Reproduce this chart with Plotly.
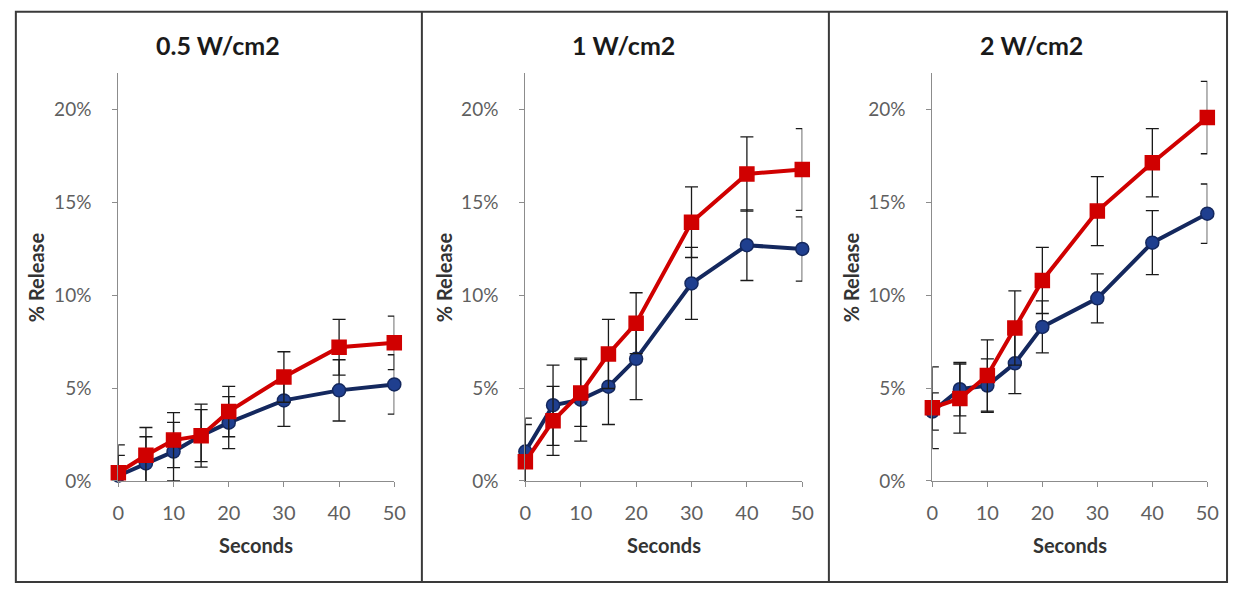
import plotly.graph_objects as go

W, H = 1241, 594

# Sampling times (s)
seconds = [0, 5, 10, 15, 20, 30, 40, 50]

panel_titles = ["0.5 W/cm2", "1 W/cm2", "2 W/cm2"]

# % release, two formulations per ultrasound intensity, with SD
red_05 = [0.44, 1.38, 2.2, 2.44, 3.74, 5.6, 7.2, 7.44]
red_05_err = [1.5, 1.5, 1.48, 1.7, 1.36, 1.36, 1.5, 1.44]
blue_05 = [0.28, 0.94, 1.58, 2.44, 3.14, 4.34, 4.88, 5.2]
blue_05_err = [1.1, 1.44, 1.58, 1.4, 1.4, 1.4, 1.65, 1.6]

red_1 = [1.04, 3.24, 4.74, 6.84, 8.5, 13.94, 16.54, 16.78]
red_1_err = [2.0, 1.86, 1.8, 1.86, 1.64, 1.9, 2.0, 2.2]
blue_1 = [1.58, 4.08, 4.38, 5.08, 6.58, 10.64, 12.7, 12.5]
blue_1_err = [1.8, 2.16, 2.24, 2.04, 2.2, 1.94, 1.9, 1.73]

red_2 = [3.94, 4.44, 5.68, 8.24, 10.8, 14.54, 17.14, 19.58]
red_2_err = [2.2, 1.86, 1.92, 2.0, 1.78, 1.86, 1.84, 1.95]
blue_2 = [3.74, 4.94, 5.14, 6.34, 8.3, 9.84, 12.84, 14.4]
blue_2_err = [1.0, 1.44, 1.44, 1.64, 1.4, 1.32, 1.72, 1.6]

y_ticks = [0, 5, 10, 15, 20]
y_tick_labels = ["0%", "5%", "10%", "15%", "20%"]
x_ticks = [0, 10, 20, 30, 40, 50]

panels = [
    (blue_05, blue_05_err, red_05, red_05_err),
    (blue_1, blue_1_err, red_1, red_1_err),
    (blue_2, blue_2_err, red_2, red_2_err),
]

# Plot-area pixel boxes for each panel (left, right), shared top/bottom
x_px = [(114, 394), (527, 808), (940, 1219)]
y_top_px, y_bot_px = 74, 490
title_x_px = [215, 627, 1041]
ytitle_x_px = [30, 444, 857]

BLUE_LINE = "#14285e"
BLUE_FILL = "#1f3f8f"
RED = "#d00000"
AXIS_GREY = "#8c8c8c"
TEXT_GREY = "#5f5f5f"
FONT = "Lato, 'Open Sans', sans-serif"


def px_x(p):
    return p / W


def px_y(p):
    return 1 - p / H


fig = go.Figure()
layout = dict(
    width=W, height=H,
    margin=dict(l=0, r=0, t=0, b=0),
    paper_bgcolor="white", plot_bgcolor="white",
    showlegend=False,
    font=dict(family=FONT, color=TEXT_GREY),
)

annotations = []
shapes = []

for i, (b, be, r, re) in enumerate(panels):
    n = "" if i == 0 else str(i + 1)
    xa, ya = "x" + n, "y" + n
    for vals, errs, color, fill, symbol, size in (
        (b, be, BLUE_LINE, BLUE_FILL, "circle", 13),
        (r, re, RED, RED, "square", 14),
    ):
        fig.add_trace(go.Scatter(
            x=seconds, y=vals, xaxis=xa, yaxis=ya,
            mode="lines+markers",
            line=dict(color=color, width=4),
            marker=dict(symbol=symbol, size=size, color=fill,
                        line=dict(color=color, width=1.5)),
            error_y=dict(type="data", array=errs, visible=True,
                         color="#1a1a1a", thickness=1.3, width=6.5),
            cliponaxis=False,
        ))

    x0, x1 = x_px[i]
    layout["xaxis" + n] = dict(
        domain=[px_x(x0), px_x(x1)],
        anchor=ya,
        range=[0, 50],
        tickmode="array", tickvals=x_ticks,
        ticks="outside", ticklen=5, tickcolor=AXIS_GREY,
        showline=True, linecolor=AXIS_GREY, linewidth=1.3,
        showgrid=False, zeroline=False,
        tickfont=dict(family=FONT, size=20, color=TEXT_GREY),
        ticklabelstandoff=9,
    )
    layout["yaxis" + n] = dict(
        domain=[px_y(y_bot_px), px_y(y_top_px)],
        anchor=xa,
        range=[0, 22],
        tickmode="array", tickvals=y_ticks, ticktext=y_tick_labels,
        ticks="outside", ticklen=5, tickcolor=AXIS_GREY,
        showline=True, linecolor=AXIS_GREY, linewidth=1.3,
        showgrid=False, zeroline=False,
        tickfont=dict(family=FONT, size=19, color=TEXT_GREY),
        ticklabelstandoff=17,
    )

    annotations.append(dict(
        text="<b>%s</b>" % panel_titles[i], xref="paper", yref="paper",
        x=px_x(title_x_px[i]), y=px_y(46), showarrow=False,
        xanchor="center", yanchor="middle",
        font=dict(family=FONT, size=25, color="#1a1a1a"),
    ))
    annotations.append(dict(
        text="<b>Seconds</b>", xref="paper", yref="paper",
        x=px_x((x0 + x1) / 2), y=px_y(555), showarrow=False,
        xanchor="center", yanchor="middle",
        font=dict(family=FONT, size=20, color="#333333"),
    ))
    annotations.append(dict(
        text="<b>% Release</b>", xref="paper", yref="paper",
        x=px_x(ytitle_x_px[i]), y=px_y(283), showarrow=False,
        textangle=-90, xanchor="center", yanchor="middle",
        font=dict(family=FONT, size=20, color="#333333"),
    ))

# Outer frame and panel dividers
border = dict(color="#3a3a3a", width=2)
shapes.append(dict(type="rect", xref="paper", yref="paper",
                   x0=px_x(10), x1=px_x(1239), y0=px_y(593), y1=px_y(12),
                   line=border))
for xd in (422, 835):
    shapes.append(dict(type="line", xref="paper", yref="paper",
                       x0=px_x(xd), x1=px_x(xd), y0=px_y(593), y1=px_y(12),
                       line=border))

layout["annotations"] = annotations
layout["shapes"] = shapes
fig.update_layout(**layout)
fig.write_html("out.html")
